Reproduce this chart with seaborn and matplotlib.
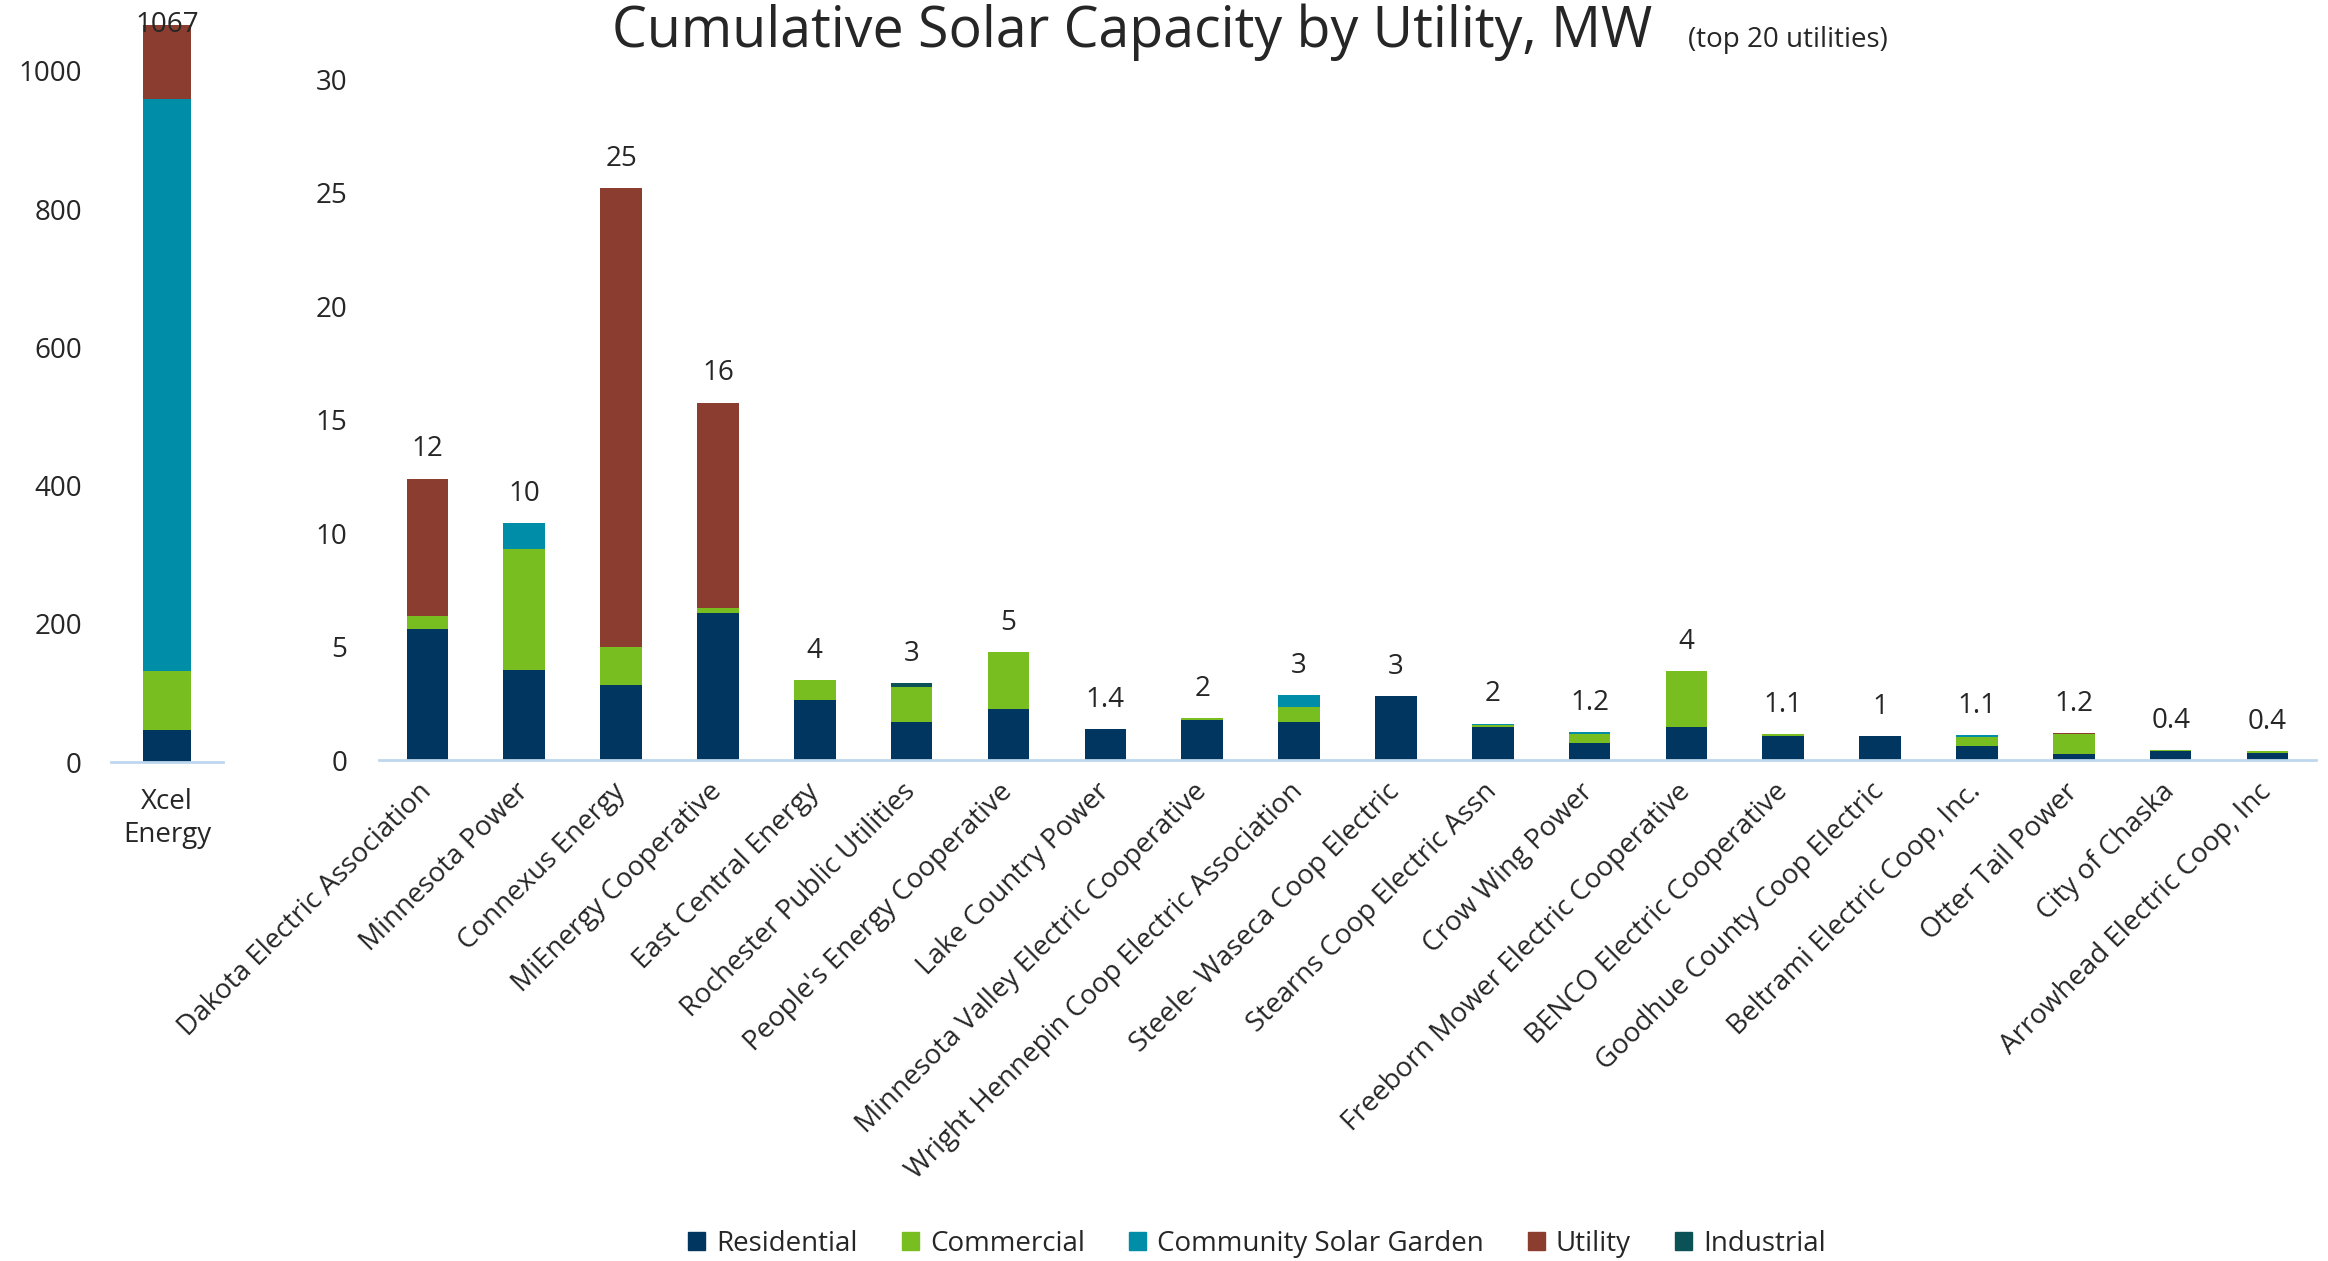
import pandas as pd
import matplotlib.pyplot as plt
import seaborn as sns

# stack order (bottom -> top) and colours
SEGMENTS = ['Residential', 'Commercial', 'Community Solar Garden', 'Utility', 'Industrial']
COLORS = ['#003660', '#78BE20', '#008DA8', '#8B3E2F', '#0B5257']

# Xcel is drawn on its own axis (MW)
xcel_name = 'Xcel\nEnergy'
xcel_values = [47, 85, 828, 107, 0]
xcel_label = '1067'

utilities = [
    'Dakota Electric Association', 'Minnesota Power', 'Connexus Energy',
    'MiEnergy Cooperative', 'East Central Energy', 'Rochester Public Utilities',
    "People's Energy Cooperative", 'Lake Country Power',
    'Minnesota Valley Electric Cooperative', 'Wright Hennepin Coop Electric Association',
    'Steele- Waseca Coop Electric', 'Stearns Coop Electric Assn', 'Crow Wing Power',
    'Freeborn Mower Electric Cooperative', 'BENCO Electric Cooperative',
    'Goodhue County Coop Electric', 'Beltrami Electric Coop, Inc.', 'Otter Tail Power',
    'City of Chaska', 'Arrowhead Electric Coop, Inc',
]
residential = [5.77, 3.97, 3.29, 6.49, 2.65, 1.69, 2.26, 1.35, 1.75, 1.68,
               2.82, 1.44, 0.75, 1.44, 1.06, 1.04, 0.60, 0.26, 0.40, 0.29]
commercial = [0.59, 5.33, 1.69, 0.22, 0.86, 1.53, 2.50, 0.00, 0.10, 0.66,
              0.00, 0.12, 0.40, 2.47, 0.07, 0.00, 0.41, 0.87, 0.04, 0.09]
community_solar = [0.00, 1.12, 0.00, 0.00, 0.00, 0.00, 0.00, 0.00, 0.00, 0.53,
                   0.00, 0.04, 0.07, 0.00, 0.00, 0.00, 0.08, 0.00, 0.00, 0.00]
utility_scale = [6.03, 0.00, 20.22, 9.04, 0.00, 0.00, 0.00, 0.00, 0.00, 0.00,
                 0.00, 0.00, 0.00, 0.00, 0.00, 0.00, 0.00, 0.06, 0.00, 0.00]
industrial = [0.00, 0.00, 0.00, 0.00, 0.00, 0.18, 0.00, 0.00, 0.00, 0.00,
              0.00, 0.00, 0.00, 0.00, 0.00, 0.00, 0.00, 0.00, 0.00, 0.00]
total_labels = ['12', '10', '25', '16', '4', '3', '5', '1.4', '2', '3',
                '3', '2', '1.2', '4', '1.1', '1', '1.1', '1.2', '0.4', '0.4']

sns.set_style('white')
plt.rcParams['font.family'] = ['Open Sans', 'DejaVu Sans']

AXIS_COLOR = '#BDD7EE'
FS = 20


def stacked(ax, df, names, width):
    """Overlay cumulative bars so each segment sits on the one below."""
    cum = df[SEGMENTS].cumsum(axis=1)
    for seg, col in reversed(list(zip(SEGMENTS, COLORS))):
        sns.barplot(x=names, y=cum[seg].values, order=names, color=col,
                    saturation=1, width=width, linewidth=0, ax=ax)
    return cum[SEGMENTS[-1]].values


fig = plt.figure(figsize=(23.28, 12.61), dpi=100)

# ---- left: Xcel Energy ----
ax1 = fig.add_axes([0.0477, 0.3957, 0.0481, 0.548])
xcel_df = pd.DataFrame([xcel_values], columns=SEGMENTS)
tops = stacked(ax1, xcel_df, [xcel_name], 0.43)
for p in ax1.patches:
    p.set_clip_on(False)
ax1.set_ylim(0, 1000)
ax1.set_xlim(-0.5, 0.5)
ax1.set_yticks(range(0, 1001, 200))
ax1.text(0, tops[0], xcel_label, ha='center', va='center', fontsize=FS)

# ---- right: top 20 utilities ----
ax2 = fig.add_axes([0.1628, 0.3973, 0.832, 0.540])
df = pd.DataFrame({
    'Residential': residential,
    'Commercial': commercial,
    'Community Solar Garden': community_solar,
    'Utility': utility_scale,
    'Industrial': industrial,
})
tops = stacked(ax2, df, utilities, 0.43)
ax2.set_ylim(0, 30)
ax2.set_xlim(-0.5, len(utilities) - 0.5)
ax2.set_yticks(range(0, 31, 5))
for i, (t, lab) in enumerate(zip(tops, total_labels)):
    ax2.annotate(lab, (i, t), xytext=(0, 11), textcoords='offset points',
                 ha='center', va='bottom', fontsize=FS)

for ax in (ax1, ax2):
    sns.despine(ax=ax, left=True)
    ax.spines['bottom'].set_color(AXIS_COLOR)
    ax.spines['bottom'].set_linewidth(2)
    ax.tick_params(axis='both', length=0, labelsize=FS)
    ax.set_xlabel('')
    ax.set_ylabel('')
ax1.tick_params(axis='y', pad=21)
ax1.tick_params(axis='x', pad=19)
ax2.tick_params(axis='y', pad=23)

ax2.set_xticks(range(len(utilities)))
ax2.set_xticklabels(utilities, rotation=45, ha='right', va='center',
                    rotation_mode='anchor', fontsize=FS)
ax2.tick_params(axis='x', pad=20)

fig.text(0.263, 0.963, 'Cumulative Solar Capacity by Utility, MW',
         ha='left', va='baseline', fontsize=40)
fig.text(0.725, 0.963, '(top 20 utilities)', ha='left', va='baseline', fontsize=20)

handles = [plt.Rectangle((0, 0), 1, 1, color=c) for c in COLORS]
fig.legend(handles, SEGMENTS, loc='center', bbox_to_anchor=(0.54, 0.0135),
           ncol=5, frameon=False, fontsize=FS, handlelength=0.6, handleheight=0.6,
           handletextpad=0.4, columnspacing=1.6)

fig.savefig('out.png', dpi=100)
